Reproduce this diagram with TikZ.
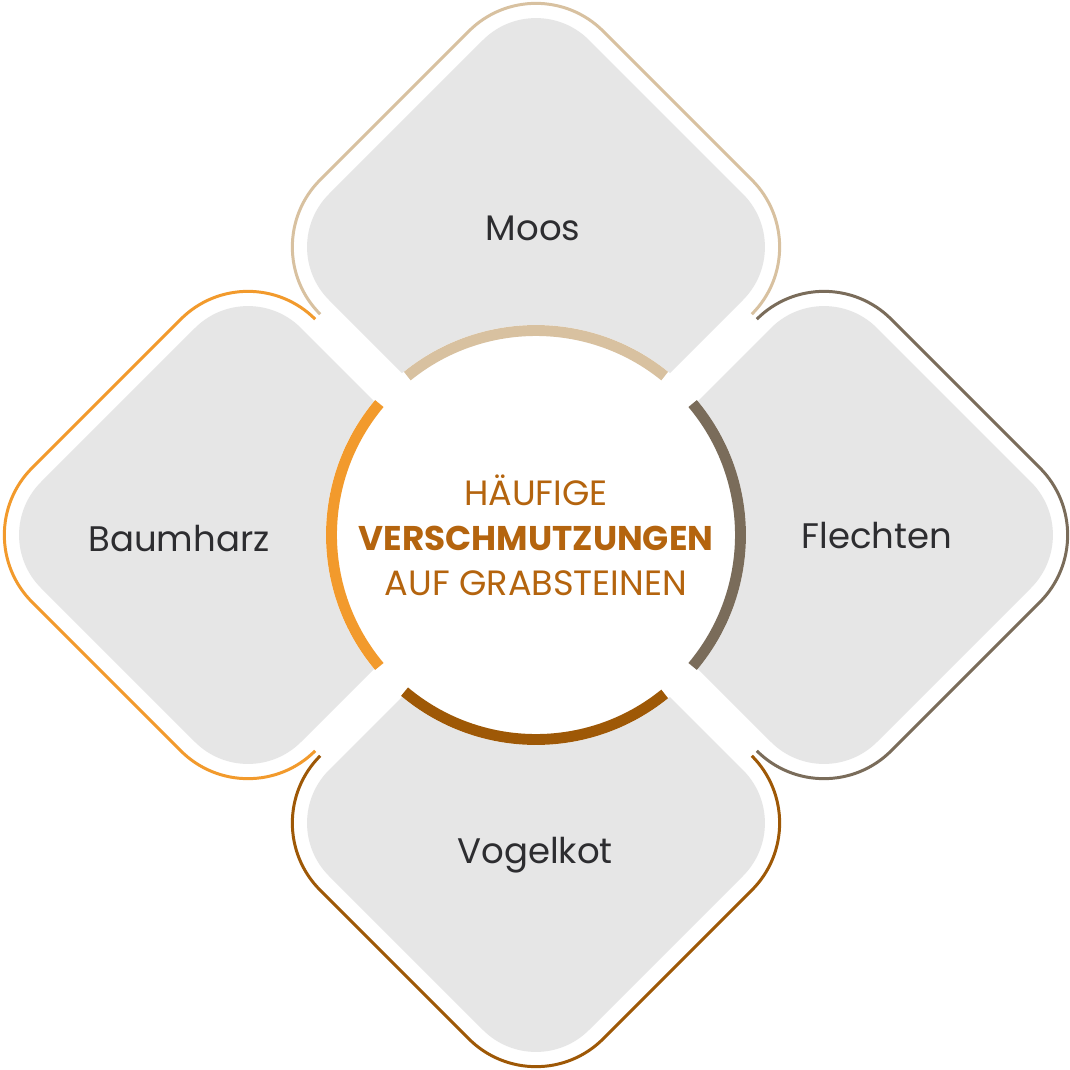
\documentclass[tikz,border=0pt]{standalone}
\usepackage{fontspec}
\setmainfont{Poppins}
\usetikzlibrary{positioning}

\definecolor{petalgray}{RGB}{230,230,230}
\definecolor{moosC}{RGB}{216,193,160}
\definecolor{flechtC}{RGB}{122,108,90}
\definecolor{kotC}{RGB}{158,88,6}
\definecolor{harzC}{RGB}{242,154,44}
\definecolor{hubtext}{RGB}{180,100,14}
\definecolor{tagtext}{RGB}{45,45,48}

\begin{document}
\begin{tikzpicture}[
    petal/.style={fill=petalgray,rounded corners=0.75cm},
    rim/.style={draw=#1,line width=0.85pt,rounded corners=0.95cm},
    band/.style={draw=#1,line width=3.1pt},
    tag/.style={text=tagtext,anchor=base,font=\fontsize{10.1}{12}\selectfont},
    hub/.style={circle,fill=white,minimum size=4.2cm,inner sep=0pt,align=center,
                text=hubtext,font=\fontsize{10}{12.8}\selectfont}]

  \fill[white] (-5.36,-5.35) rectangle (5.34,5.35);
  \useasboundingbox (-5.36,-5.35) rectangle (5.34,5.35);

  % petals with their outer rims
  \foreach \ang/\col in {90/moosC,180/harzC,0/flechtC,270/kotC}{
    \begin{scope}[shift={(\ang:2.88)},rotate=\ang]
      \path[petal] (1.3,1.3) -- (0,2.6) -- (-2.6,0) -- (0,-2.6) -- (2.6,0) -- cycle;
      \path[rim=\col] (-0.67,-2.16) -- (0,-2.83) -- (2.83,0) -- (0,2.83) -- (-0.67,2.16);
    \end{scope}
  }

  \node[hub] (hub) at (0,0)
    {HÄUFIGE\\{\fontsize{9.75}{12.8}\selectfont\bfseries VERSCHMUTZUNGEN}\\AUF GRABSTEINEN};

  \draw[band=moosC] (hub.center) ++(51:2.045) arc[start angle=51,end angle=129,radius=2.045];
  \draw[band=harzC] (hub.center) ++(140:2.045) arc[start angle=140,end angle=220,radius=2.045];
  \draw[band=kotC] (hub.center) ++(230:2.045) arc[start angle=230,end angle=309,radius=2.045];
  \draw[band=flechtC] (hub.center) ++(-40:2.045) arc[start angle=-40,end angle=40,radius=2.045];

  \node[tag] (moos) at (-0.03,2.95) {Moos};
  \node[tag] (harz) at (-3.57,-0.16) {Baumharz};
  \node[tag] (flechten) at (3.41,-0.13) {Flechten};
  \node[tag] (kot) at (-0.01,-3.28) {Vogelkot};

\end{tikzpicture}
\end{document}
